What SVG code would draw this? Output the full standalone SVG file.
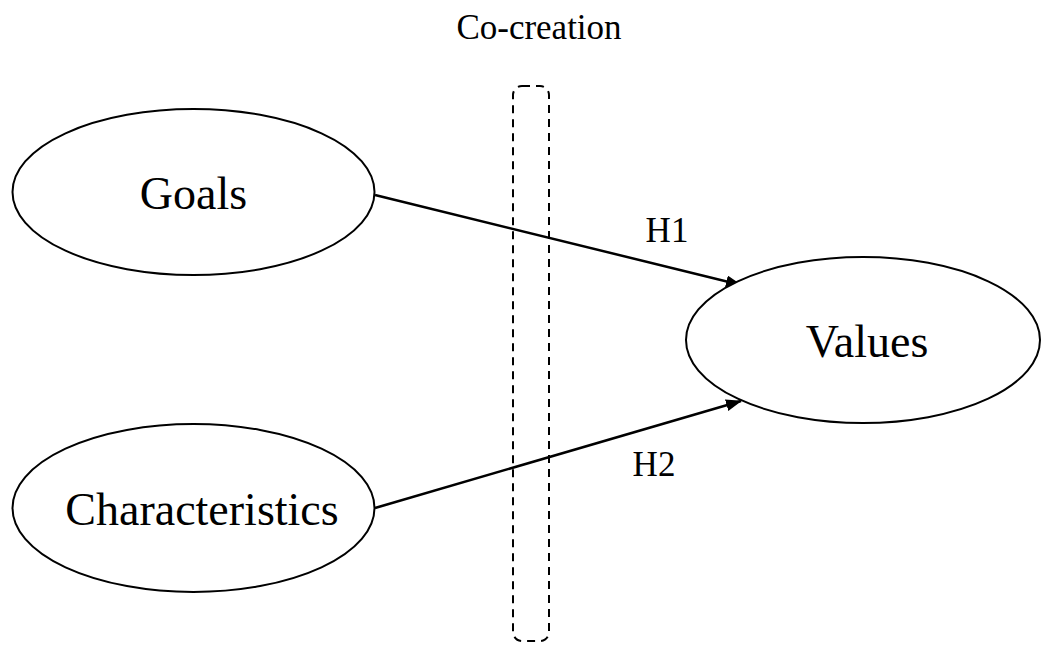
<svg xmlns="http://www.w3.org/2000/svg" width="1041" height="645" viewBox="0 0 1041 645">
  <style>
    .node { fill: #ffffff; stroke: #000000; stroke-width: 2; }
    .big { font-family: "Liberation Serif", "Times New Roman", serif; font-size: 46px; fill: #000000; text-anchor: middle; }
    .small { font-family: "Liberation Serif", "Times New Roman", serif; font-size: 35px; fill: #000000; text-anchor: middle; }
    .edge { fill: none; stroke: #000000; stroke-width: 2.5; marker-end: url(#arrow); }
    .band { fill: none; stroke: #000000; stroke-width: 2; stroke-dasharray: 8 6; }
  </style>
  <defs>
    <marker id="arrow" markerWidth="16" markerHeight="12" refX="15" refY="6" orient="auto" markerUnits="userSpaceOnUse" viewBox="0 0 16 12">
      <path d="M0,0 L16,6 L0,12 z" fill="#000000"/>
    </marker>
  </defs>
  <rect width="1041" height="645" fill="#ffffff"/>

  <!-- co-creation band -->
  <g id="cocreation">
    <rect class="band" x="513" y="86" width="36" height="555" rx="9" ry="9"/>
    <text class="small" x="539" y="39">Co-creation</text>
  </g>

  <!-- connectors -->
  <g id="connectors">
    <line class="edge" x1="375" y1="195" x2="741" y2="285"/>
    <line class="edge" x1="375" y1="508" x2="741" y2="401"/>
    <text class="small" x="667" y="242">H1</text>
    <text class="small" x="654" y="476">H2</text>
  </g>

  <g id="goals">
    <ellipse class="node" cx="193.5" cy="192" rx="181" ry="83"/>
    <text class="big" x="193.5" y="209">Goals</text>
  </g>

  <g id="characteristics">
    <ellipse class="node" cx="193.5" cy="508" rx="181" ry="84"/>
    <text class="big" x="202" y="525">Characteristics</text>
  </g>

  <g id="values">
    <ellipse class="node" cx="863" cy="340" rx="177" ry="83"/>
    <text class="big" x="867" y="357">Values</text>
  </g>
</svg>
